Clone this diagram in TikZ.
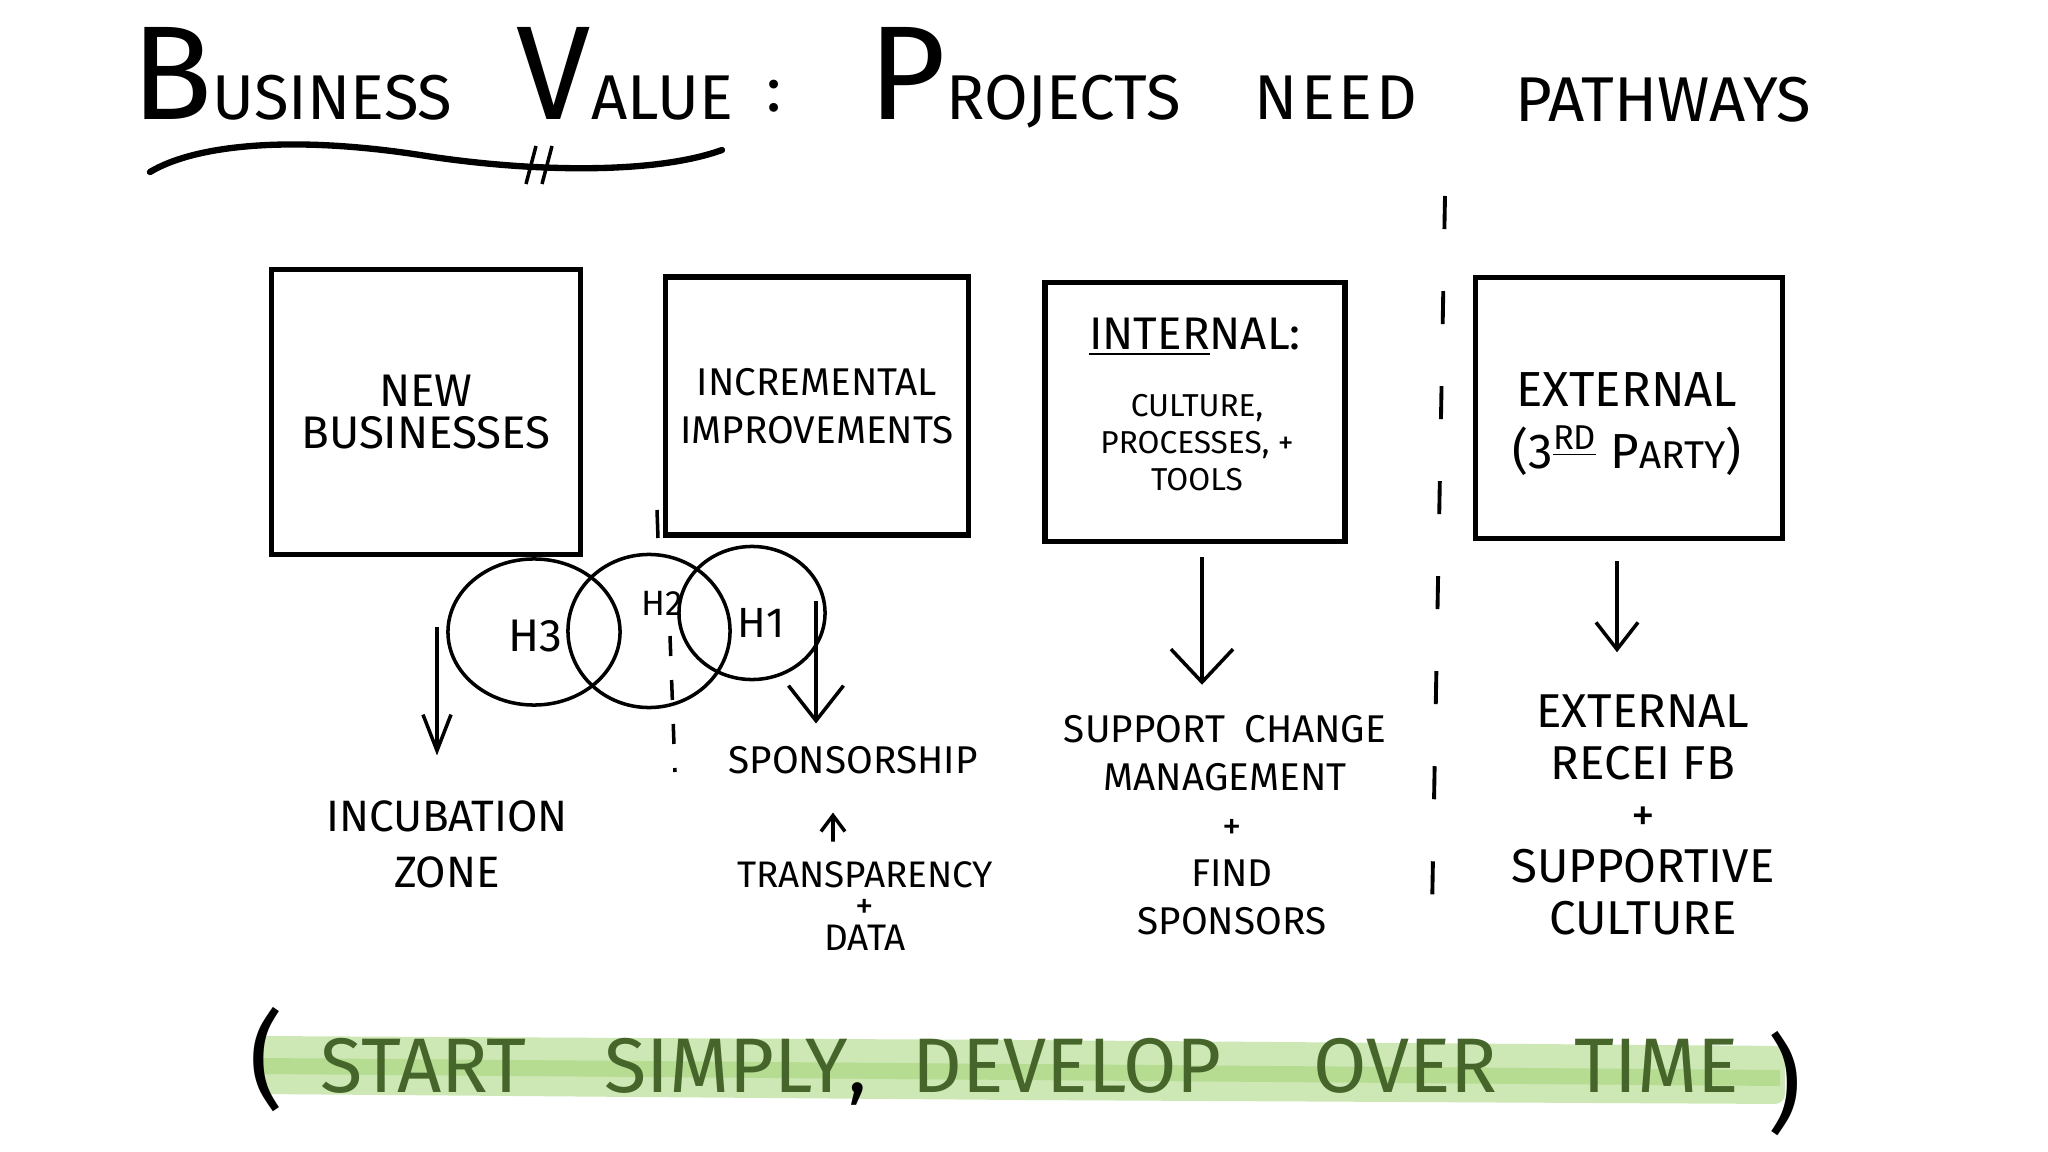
\documentclass[tikz,border=0pt]{standalone}
\usepackage{fontspec}
\setmainfont{Fira Sans}
\usetikzlibrary{arrows.meta,shapes.geometric,positioning}
\definecolor{hlband}{HTML}{CDE8B4}
\definecolor{hlstripe}{HTML}{B6DC92}
\definecolor{mottogreen}{HTML}{45652A}
\newcommand{\capinit}[1]{{\fontsize{38}{38}\selectfont #1}}

\begin{document}
\begin{tikzpicture}[
      x=0.01cm, y=-0.01cm,
      every node/.style={inner sep=0pt, align=center},
      pathbox/.style={draw, rectangle, line width=1.5pt},
      horizon/.style={draw, ellipse, line width=1pt},
      hand/.style={font=\fontsize{11}{13.5}\selectfont},
      titleword/.style={anchor=base west, font=\fontsize{18}{18}\selectfont},
      drop/.style 2 args={line width=1pt, -{Straight Barb[length=#1, width=#2]}},
      divider/.style={line width=1.1pt, dash pattern=on 0.33cm off 0.62cm}
    ]
  \useasboundingbox (0,0) rectangle (2048,1152);

  % title
  \node[titleword] (tbusiness) at (131,120) {\capinit{B}USINESS};
  \node[titleword] (tvalue) at (516,120) {\capinit{V}ALUE};
  \node[titleword] (tcolon) at (766,112) {:};
  \node[titleword] (tprojects) at (868,120) {\capinit{P}ROJECTS};
  \node[titleword] (tneed) at (1254,120) {N\kern1pt E\kern1pt E\kern1pt D};
  \node[titleword] (tpathways) at (1515,122) {PATHWAYS};
  \draw[line width=1.8pt, line cap=round] (150,172) .. controls (195,145) and (290,135) .. (420,155)
    .. controls (520,171) and (650,176) .. (722,150);
  \draw[line width=1pt] (536,146) -- (526,184);
  \draw[line width=1pt] (552,146) -- (542,184);

  % pathways
  \node[pathbox, minimum width=3.09cm, minimum height=2.85cm, font=\fontsize{13}{12}\selectfont]
    (newbiz) at (426,412) {NEW\\BUSINESSES};
  \node[pathbox, minimum width=3.03cm, minimum height=2.58cm, hand]
    (incremental) at (817,406) {INCREMENTAL\\IMPROVEMENTS};
  \node[pathbox, minimum width=3.0cm, minimum height=2.59cm] (internal) at (1195,412) {};
  \node[font=\fontsize{13}{13}\selectfont] (intlabel) at (1195,337) {\underline{INTER}NAL:};
  \node[font=\fontsize{9}{10.5}\selectfont] (intlist) at (1197,443) {CULTURE,\\PROCESSES, +\\TOOLS};
  \node[pathbox, minimum width=3.07cm, minimum height=2.61cm] (external) at (1629,408) {};
  \node[font=\fontsize{14}{17.5}\selectfont] (extlabel) at (1627,424)
    {EXTERNAL\\(3\textsuperscript{\underline{RD}} P{\fontsize{11}{11}\selectfont ARTY})};

  \coordinate (divtop) at (1445,196);
  \coordinate (divbot) at (1432,912);
  \draw[divider] (divtop) -- (divbot);

  % horizons
  \coordinate (h2tick) at (657,510);
  \coordinate (h2top) at (670,636);
  \coordinate (h2bot) at (675,772);
  \draw[line width=1pt] (h2tick) -- ++(1,28);
  \draw[line width=1pt, dash pattern=on 0.2cm off 0.24cm] (h2top) -- (h2bot);
  \node[horizon, minimum width=1.72cm, minimum height=1.46cm] (h3) at (534,632) {};
  \node[horizon, minimum width=1.62cm, minimum height=1.53cm] (h2) at (649,631) {};
  \node[horizon, minimum width=1.46cm, minimum height=1.33cm] (h1) at (752,613) {};
  \node[font=\fontsize{13}{13}\selectfont] (lh3) at (535,636) {H3};
  \node[font=\fontsize{10}{10}\selectfont] (lh2) at (662,603) {H2};
  \node[font=\fontsize{12}{12}\selectfont] (lh1) at (761,623) {H1};

  % outcomes
  \node[font=\fontsize{12.5}{16}\selectfont] (incubation) at (447,844) {INCUBATION\\ZONE};
  \node[hand] (sponsorship) at (853,760) {SPONSORSHIP};
  \node[font=\fontsize{10.5}{9}\selectfont] (transparency) at (865,906) {TRANSPARENCY\\+\\DATA};
  \node[hand] (changemgmt) at (1225,753) {SUPPORT\enspace CHANGE\\MANAGEMENT};
  \node[hand] (findsponsors) at (1232,877) {+\\FIND\\SPONSORS};
  \node[font=\fontsize{13.5}{14.7}\selectfont] (receivefb) at (1643,815)
    {EXTERNAL\\RECEI FB\\+\\SUPPORTIVE\\CULTURE};

  \coordinate (h3drop) at (437,627);
  \coordinate (h1drop) at (816,601);
  \draw[drop={0.36cm}{0.28cm}, shorten >=0.44cm] (h3drop) -- (h3drop |- incubation.north);
  \draw[drop={0.35cm}{0.55cm}, shorten >=0.22cm] (h1drop) -- (h1drop |- sponsorship.north);
  \draw[drop={0.16cm}{0.24cm}, shorten <=0.19cm, shorten >=0.38cm]
    ([xshift=-0.32cm]transparency.north) -- ([xshift=-0.2cm]sponsorship.south);
  \draw[drop={0.33cm}{0.62cm}, shorten <=0.13cm, shorten >=0.3cm]
    ([xshift=0.07cm]internal.south) -- ([xshift=0.07cm]internal.south |- changemgmt.north);
  \draw[drop={0.27cm}{0.42cm}, shorten <=0.2cm, shorten >=0.42cm]
    ([xshift=-0.12cm]external.south) -- ([xshift=-0.12cm]external.south |- receivefb.north);

  % motto
  \fill[hlband, rounded corners=0.1cm] (255,1036) -- (1020,1040) -- (1785,1046)
    -- (1785,1104) -- (1020,1100) -- (258,1094) -- cycle;
  \fill[hlstripe] (262,1058) -- (1020,1064) -- (1780,1070) -- (1780,1086) -- (1020,1080) -- (262,1074) -- cycle;
  \node[font=\fontsize{22}{22}\selectfont, text=mottogreen] (motto) at (1030,1072)
    {START\hspace{22pt}SIMPLY{\color{black},}\hspace{13pt}DEVELOP\hspace{26pt}OVER\hspace{22pt}TIME};
  \node[font=\fontsize{30}{30}\selectfont] (lparen) at (267,1060) {(};
  \node[font=\fontsize{30}{30}\selectfont] (rparen) at (1785,1084) {)};
\end{tikzpicture}
\end{document}
